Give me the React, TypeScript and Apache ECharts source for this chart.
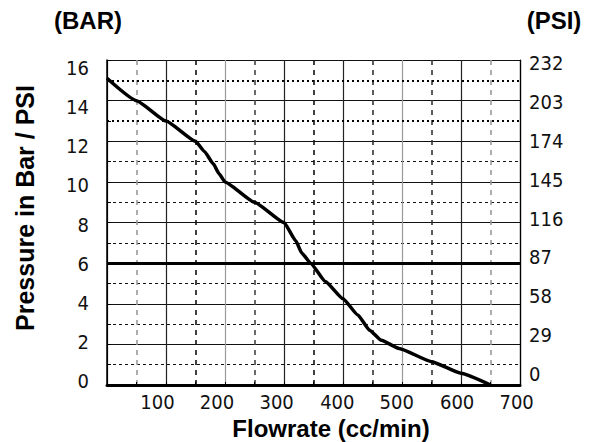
import React, { useEffect, useRef } from "react";
import * as echarts from "echarts";

// ---- data ----
const flowrate = [0, 50, 100, 150, 165, 180, 190, 200, 250, 300, 320, 330, 345, 370, 400, 425, 445, 465, 495, 550, 600, 650];
const pressureBar = [15.1, 14.0, 13.0, 12.0, 11.5, 10.9, 10.4, 10.0, 9.0, 8.0, 7.1, 6.5, 6.0, 5.1, 4.25, 3.45, 2.7, 2.2, 1.8, 1.15, 0.58, 0];
const barTicks = [0, 2, 4, 6, 8, 10, 12, 14, 16];
const psiTicks = [0, 29, 58, 87, 116, 145, 174, 203, 232];
const flowTicks = [100, 200, 300, 400, 500, 600, 700];

// ---- styling (label nudges in px, not data) ----
const leftShift = [-4, -2.5, -1, 0.5, 2, 3.5, 5, 6.5, 8]; // for barTicks
const rightShift = [-11, -9.3, -7.5, -5.7, -4, -2.3, -0.5, 1.3, 3];
const xShift = [-8.5, -8, -7.4, -5.7, -5.3, -3.9, -3.4];

const LABEL_FONT = "'Liberation Sans Narrow', 'DejaVu Sans Condensed', 'Arial Narrow', sans-serif";
const TITLE_FONT = "'Liberation Sans', Arial, Helvetica, sans-serif";
const LABEL_SIZE = 20;

function vPad(d: number) {
  return d >= 0 ? [2 * d, 0, 0, 0] : [0, 0, -2 * d, 0];
}

export default function App() {
  const ref = useRef<HTMLDivElement>(null);

  useEffect(() => {
    if (!ref.current) return;
    const chart = echarts.init(ref.current, undefined, { renderer: "svg" });

    const baseRich = { fontFamily: LABEL_FONT, fontSize: LABEL_SIZE, color: "#111" };
    const leftRich: Record<string, any> = {};
    const rightRich: Record<string, any> = {};
    barTicks.forEach((b, i) => {
      leftRich["l" + b] = { ...baseRich, padding: vPad(leftShift[i]) };
      rightRich["r" + b] = { ...baseRich, padding: vPad(rightShift[i]) };
    });
    const xRich: Record<string, any> = {};
    flowTicks.forEach((f, i) => {
      xRich["x" + f] = { ...baseRich, padding: [0, -2 * xShift[i], 0, 0] };
    });

    const data = flowrate.map((f, i) => [f, pressureBar[i]]);

    const xMinorColors: string[] = [];
    const xMinorMap: Record<number, string> = { 50: "#9a9a9a", 150: "#111", 250: "#444", 350: "#111", 450: "#333", 550: "#333", 650: "#9a9a9a" };
    for (let v = 0; v <= 700; v += 50) xMinorColors.push(xMinorMap[v] || "rgba(0,0,0,0)");

    const yMinorColors: string[] = [];
    for (let v = 0; v <= 16; v++) yMinorColors.push(v % 2 === 1 && v !== 13 && v !== 15 ? "#111" : "rgba(0,0,0,0)");

    chart.setOption({
      animation: false,
      backgroundColor: "#fff",
      grid: { left: 107, right: 72, top: 60, bottom: 57, containLabel: false },
      xAxis: [
        {
          type: "value",
          min: 0,
          max: 700,
          interval: 100,
          position: "bottom",
          axisLine: { show: true, onZero: false, lineStyle: { color: "#000", width: 3 } },
          axisTick: { show: true, inside: true, length: 3, lineStyle: { color: "#000" } },
          minorTick: { show: true, splitNumber: 2, length: 3, lineStyle: { color: "#000" } },
          axisLabel: {
            margin: 7,
            formatter: (v: number) => (v === 0 ? "" : `{x${v}|${v}}`),
            rich: xRich,
            fontFamily: LABEL_FONT,
            fontSize: LABEL_SIZE,
            color: "#111",
          },
          splitLine: {
            show: true,
            lineStyle: { color: ["#000", "#222", "#9a9a9a", "#222", "#222", "#9a9a9a", "#222", "#000"], width: 1.2, type: "solid" },
          },
        },
        {
          type: "value",
          min: 0,
          max: 700,
          interval: 50,
          position: "top",
          axisLine: { show: false },
          axisTick: { show: false },
          axisLabel: { show: false },
          splitLine: { show: true, lineStyle: { color: xMinorColors, width: 1.6, type: [5, 5] } },
        },
      ],
      yAxis: [
        {
          type: "value",
          min: 0,
          max: 16,
          interval: 2,
          position: "left",
          axisLine: { show: true, onZero: false, lineStyle: { color: "#000", width: 1.5 } },
          axisTick: { show: true, inside: true, length: 4, lineStyle: { color: "#000" } },
          minorTick: { show: true, splitNumber: 2, length: 4, lineStyle: { color: "#000" } },
          axisLabel: {
            margin: 18,
            formatter: (v: number) => `{l${v}|${v}}`,
            rich: leftRich,
            fontFamily: LABEL_FONT,
            fontSize: LABEL_SIZE,
            color: "#111",
          },
          splitLine: { show: true, lineStyle: { color: "#111", width: 1.2, type: "solid" } },
        },
        {
          type: "value",
          min: 0,
          max: 16,
          interval: 2,
          position: "right",
          axisLine: { show: true, onZero: false, lineStyle: { color: "#000", width: 1.2 } },
          axisTick: { show: false },
          axisLabel: {
            margin: 9,
            formatter: (v: number) => {
              const idx = barTicks.indexOf(v);
              return idx < 0 ? "" : `{r${v}|${psiTicks[idx]}}`;
            },
            rich: rightRich,
            fontFamily: LABEL_FONT,
            fontSize: LABEL_SIZE,
            color: "#111",
          },
          splitLine: { show: false },
        },
        {
          type: "value",
          min: 0,
          max: 16,
          interval: 1,
          position: "left",
          axisLine: { show: false },
          axisTick: { show: false },
          axisLabel: { show: false },
          splitLine: { show: true, lineStyle: { color: yMinorColors, width: 1, type: [3, 3] } },
        },
      ],
      series: [
        {
          type: "line",
          xAxisIndex: 0,
          yAxisIndex: 0,
          data,
          symbol: "none",
          smooth: 0.15,
          smoothMonotone: "x",
          lineStyle: { color: "#000", width: 3.5 },
          z: 10,
          markLine: {
            silent: true,
            symbol: ["none", "none"],
            label: { show: false },
            z: 3,
            data: [
              { yAxis: 6, lineStyle: { color: "#000", width: 3, type: "solid" } },
              { yAxis: 15, lineStyle: { color: "#000", width: 2, type: [2, 3] } },
              { yAxis: 13, lineStyle: { color: "#000", width: 2, type: [2, 3] } },
            ],
          },
        },
      ],
      graphic: [
        {
          type: "text",
          x: 88,
          y: 20,
          style: { text: "(BAR)", font: `bold 24px ${TITLE_FONT}`, fill: "#000", textAlign: "center", textVerticalAlign: "middle" },
        },
        {
          type: "text",
          x: 554,
          y: 20,
          style: { text: "(PSI)", font: `bold 24px ${TITLE_FONT}`, fill: "#000", textAlign: "center", textVerticalAlign: "middle" },
        },
        {
          type: "text",
          x: 25,
          y: 208,
          rotation: Math.PI / 2,
          style: { text: "Pressure in Bar / PSI", font: `bold 25px ${TITLE_FONT}`, fill: "#000", textAlign: "center", textVerticalAlign: "middle" },
        },
        {
          type: "text",
          x: 331,
          y: 428,
          style: { text: "Flowrate (cc/min)", font: `bold 24px ${TITLE_FONT}`, fill: "#000", textAlign: "center", textVerticalAlign: "middle" },
        },
      ],
    });

    return () => chart.dispose();
  }, []);

  return <div ref={ref} style={{ position: "fixed", left: 0, top: 0, width: 592, height: 442, background: "#fff" }} />;
}
